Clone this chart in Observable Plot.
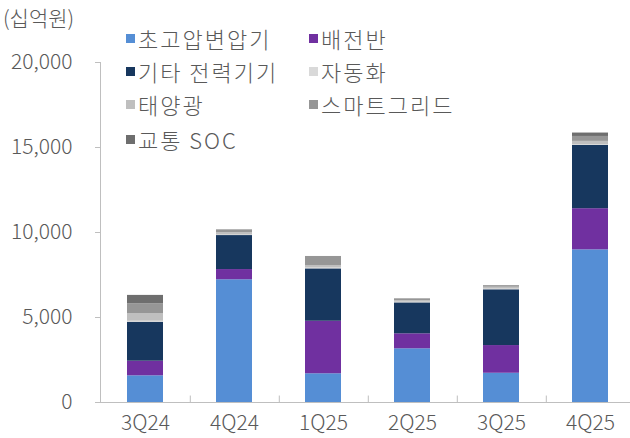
<!DOCTYPE html>
<html>
<head>
<meta charset="utf-8">
<script src="https://cdn.jsdelivr.net/npm/d3@7"></script>
<script src="https://cdn.jsdelivr.net/npm/@observablehq/plot@0.6"></script>
<style>
  body { margin: 0; background: #fff; font-family: "Noto Sans CJK KR", "Noto Sans", sans-serif; }
  #wrap { position: relative; width: 630px; height: 438px; }
  .unit { position: absolute; left: 3px; top: 3px; font-size: 21px; color: #595959; line-height: 28px; font-weight: 300; }
  .leg { position: absolute; font-size: 22px; color: #595959; line-height: 26px; white-space: nowrap; display: flex; align-items: center; font-weight: 300; letter-spacing: 2px; }
  .leg i { display: inline-block; width: 9px; height: 9px; margin-right: 3px; }
  svg text { font-weight: 300; }
</style>
</head>
<body>
<div id="wrap"></div>
<script>
const quarters = ["3Q24", "4Q24", "1Q25", "2Q25", "3Q25", "4Q25"];
const seriesNames = ["초고압변압기", "배전반", "기타 전력기기", "자동화", "태양광", "스마트그리드", "교통 SOC"];
const seriesColors = ["#558ed5", "#7030a0", "#17375e", "#d9d9d9", "#bfbfbf", "#969696", "#6e6e6e"];
const uhvTransformer = [1570, 7220, 1690, 3160, 1720, 8980];
const switchgear     = [860, 600, 3090, 880, 1630, 2420];
const otherPower     = [2290, 2000, 3080, 1820, 3280, 3720];
const automation     = [60, 30, 50, 40, 40, 40];
const solar          = [440, 150, 150, 100, 110, 200];
const smartGrid      = [590, 150, 530, 80, 80, 290];
const transportSOC   = [490, 10, 0, 20, 20, 200];
const yTicks = [0, 5000, 10000, 15000, 20000];

const seriesValues = [uhvTransformer, switchgear, otherPower, automation, solar, smartGrid, transportSOC];
const rows = [];
seriesNames.forEach((s, si) => quarters.forEach((q, qi) => rows.push({quarter: q, series: s, value: seriesValues[si][qi]})));

const axisColor = "#bfbfbf";
const textColor = "#595959";

const chart = Plot.plot({
  width: 630, height: 438,
  marginLeft: 100, marginRight: 0, marginTop: 62, marginBottom: 36,
  style: {fontFamily: "'Noto Sans CJK KR', 'Noto Sans', sans-serif", background: "#fff"},
  x: {domain: quarters, range: [100, 634], paddingInner: 0.6, paddingOuter: 0.28, label: null},
  y: {domain: [0, 20000], label: null},
  color: {domain: seriesNames, range: seriesColors},
  marks: [
    Plot.barY(rows, Plot.stackY({x: "quarter", y: "value", fill: "series", order: seriesNames})),
    Plot.frame({anchor: "left", stroke: axisColor}),
    Plot.ruleY([0], {stroke: axisColor}),
    Plot.ruleX(quarters.slice(0, -1), {x: d => d, dx: 44.8, y1: 0, y2: 380, stroke: axisColor}),
    Plot.axisY({ticks: yTicks, tickSize: 5, tickFormat: () => "", color: axisColor}),
    Plot.axisY({ticks: yTicks, tickSize: 0, tickPadding: 28, tickFormat: d3.format(","), fontSize: 21, fill: textColor}),
    Plot.axisX({tickSize: 0, tickPadding: 13, fontSize: 21, fill: textColor})
  ]
});

const wrap = document.getElementById("wrap");
wrap.appendChild(chart);
chart.style.position = "absolute";
chart.style.left = "0";
chart.style.top = "0";

const unit = document.createElement("div");
unit.className = "unit";
unit.textContent = "(십억원)";
wrap.appendChild(unit);

const legendPos = [[126, 38], [309, 38], [126, 71], [309, 71], [126, 104], [309, 104], [126, 139]];
seriesNames.forEach((s, i) => {
  const d = document.createElement("div");
  d.className = "leg";
  d.style.left = legendPos[i][0] + "px";
  d.style.top = (legendPos[i][1] - 13) + "px";
  const sw = document.createElement("i");
  sw.style.background = seriesColors[i];
  d.appendChild(sw);
  d.appendChild(document.createTextNode(s));
  wrap.appendChild(d);
});
</script>
</body>
</html>
